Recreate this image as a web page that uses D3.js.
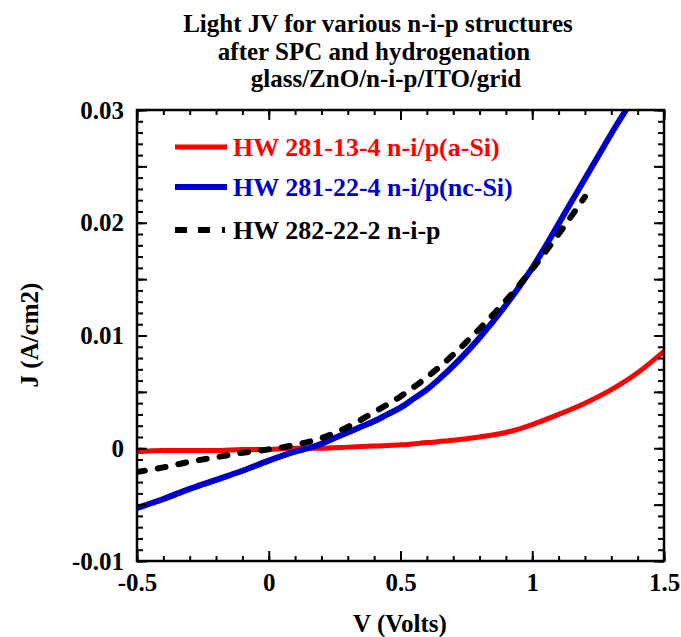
<!DOCTYPE html>
<html>
<head>
<meta charset="utf-8">
<script src="https://cdn.jsdelivr.net/npm/d3@7"></script>
<style>
  body { margin: 0; background: #fff; }
</style>
</head>
<body>
<div id="wrapper"></div>
<script>
// data
const titleLines = ["Light JV for various n-i-p structures", "after SPC and hydrogenation", "glass/ZnO/n-i-p/ITO/grid"]
const seriesNames = ["HW 281-13-4 n-i/p(a-Si)", "HW 281-22-4 n-i/p(nc-Si)", "HW 282-22-2 n-i-p"]

const redV = [-0.5, -0.4, -0.3, -0.2, -0.1, 0, 0.1, 0.2, 0.3, 0.4, 0.5, 0.6, 0.7, 0.8, 0.9, 1.0, 1.1, 1.2, 1.3, 1.4, 1.5]
const redJ = [-0.0003, -0.0002, -0.0002, -0.0002, -0.0001, -0.0001, 0, 0, 0.0001, 0.0002, 0.0003, 0.0005, 0.0007, 0.0010, 0.0014, 0.0021, 0.0030, 0.0040, 0.0052, 0.0067, 0.0086]

const blueV = [-0.5, -0.4, -0.3, -0.2, -0.1, 0, 0.1, 0.15, 0.2, 0.25, 0.3, 0.35, 0.4, 0.45, 0.5, 0.55, 0.6, 0.65, 0.7, 0.75, 0.8, 0.85, 0.9, 0.95, 1.0, 1.05, 1.1, 1.15, 1.2, 1.25, 1.3, 1.356]
const blueJ = [-0.0053, -0.0045, -0.0036, -0.0028, -0.0020, -0.0011, -0.0003, 0.0000, 0.0004, 0.0009, 0.0014, 0.0019, 0.0024, 0.0030, 0.0036, 0.0044, 0.0052, 0.0062, 0.0073, 0.0085, 0.0098, 0.0112, 0.0127, 0.0143, 0.0160, 0.0179, 0.0199, 0.0219, 0.0239, 0.0259, 0.0279, 0.0300]

const blackV = [-0.5, -0.4, -0.3, -0.2, -0.1, 0, 0.1, 0.2, 0.3, 0.4, 0.5, 0.6, 0.7, 0.8, 0.9, 1.0, 1.1, 1.2]
const blackJ = [-0.0021, -0.0017, -0.0012, -0.0008, -0.0004, -0.0001, 0.0003, 0.0009, 0.0019, 0.0032, 0.0046, 0.0063, 0.0083, 0.0106, 0.0131, 0.0159, 0.0190, 0.0223]

const xMajor = [-0.5, 0, 0.5, 1, 1.5]
const xLabels = ["-0.5", "0", "0.5", "1", "1.5"]
const yLabelValues = [-0.01, 0, 0.01, 0.02, 0.03]
const yLabels = ["-0.01", "0", "0.01", "0.02", "0.03"]

const colors = ["#ff0000", "#0000cc", "#000000"]
const fontFamily = "Liberation Serif"

// dimensions
let dimensions = {
  width: 681,
  height: 637,
  margin: { top: 110, right: 17, bottom: 76, left: 137 },
}
dimensions.boundedWidth = dimensions.width - dimensions.margin.left - dimensions.margin.right
dimensions.boundedHeight = dimensions.height - dimensions.margin.top - dimensions.margin.bottom

const wrapper = d3.select("#wrapper")
  .append("svg")
    .attr("width", dimensions.width)
    .attr("height", dimensions.height)

const bounds = wrapper.append("g")
    .attr("transform", `translate(${dimensions.margin.left},${dimensions.margin.top})`)

// scales
const xScale = d3.scaleLinear()
  .domain([-0.5, 1.5])
  .range([0, dimensions.boundedWidth])

const yScale = d3.scaleLinear()
  .domain([-0.01, 0.03])
  .range([dimensions.boundedHeight, 0])

const xMinor = d3.range(-5, 16).map(d => d / 10)
const yMinor = d3.range(-10, 31).map(d => d / 1000)
const yMajor = d3.range(-2, 7).map(d => d / 200)

// title
wrapper.selectAll(".title")
  .data(titleLines)
  .join("text")
    .attr("class", "title")
    .attr("x", (d, i) => [378, 374, 386][i])
    .attr("y", (d, i) => 32 + i * 27.5)
    .attr("text-anchor", "middle")
    .attr("font-family", fontFamily)
    .attr("font-weight", "bold")
    .attr("font-size", 25)
    .text(d => d)

// data lines
bounds.append("clipPath").attr("id", "plotClip")
  .append("rect")
    .attr("width", dimensions.boundedWidth)
    .attr("height", dimensions.boundedHeight)

const lineGenerator = d3.line()
  .x(d => xScale(d[0]))
  .y(d => yScale(d[1]))
  .curve(d3.curveMonotoneX)

const series = [
  d3.zip(redV, redJ),
  d3.zip(blueV, blueJ),
  d3.zip(blackV, blackJ),
]

const lines = bounds.append("g").attr("clip-path", "url(#plotClip)")
lines.selectAll("path")
  .data(series)
  .join("path")
    .attr("d", lineGenerator)
    .attr("fill", "none")
    .attr("stroke", (d, i) => colors[i])
    .attr("stroke-width", (d, i) => i == 0 ? 5 : 6)
    .attr("stroke-linecap", "round")
    .attr("stroke-dasharray", (d, i) => i == 2 ? "8,13" : null)

// axes
const axisStyle = g => {
  g.attr("font-family", null).attr("font-size", null)
  g.select(".domain").remove()
  g.selectAll("line").attr("stroke", "#000").attr("stroke-width", 2)
  g.selectAll("text")
    .attr("fill", "#000")
    .attr("font-family", fontFamily)
    .attr("font-weight", "bold")
    .attr("font-size", 25)
}

const xFormat = d => { const i = xMajor.indexOf(d); return i >= 0 ? xLabels[i] : "" }
const yFormat = d => {
  const i = yLabelValues.findIndex(v => Math.abs(v - d) < 1e-9)
  return i >= 0 ? yLabels[i] : ""
}

// bottom
bounds.append("g")
    .attr("transform", `translate(0,${dimensions.boundedHeight})`)
    .call(d3.axisBottom(xScale).tickValues(xMinor).tickSize(-5).tickFormat(""))
    .call(axisStyle)
bounds.append("g")
    .attr("transform", `translate(0,${dimensions.boundedHeight})`)
    .call(d3.axisBottom(xScale).tickValues(xMajor).tickSize(-10).tickPadding(12).tickFormat(xFormat))
    .call(axisStyle)
// top
bounds.append("g")
    .call(d3.axisTop(xScale).tickValues(xMinor).tickSize(-5).tickFormat(""))
    .call(axisStyle)
bounds.append("g")
    .call(d3.axisTop(xScale).tickValues(xMajor).tickSize(-10).tickFormat(""))
    .call(axisStyle)
// left
bounds.append("g")
    .call(d3.axisLeft(yScale).tickValues(yMinor).tickSize(-6).tickFormat(""))
    .call(axisStyle)
bounds.append("g")
    .call(d3.axisLeft(yScale).tickValues(yMajor).tickSize(-10).tickPadding(13).tickFormat(yFormat))
    .call(axisStyle)
// right
bounds.append("g")
    .attr("transform", `translate(${dimensions.boundedWidth},0)`)
    .call(d3.axisRight(yScale).tickValues(yMinor).tickSize(-6).tickFormat(""))
    .call(axisStyle)
bounds.append("g")
    .attr("transform", `translate(${dimensions.boundedWidth},0)`)
    .call(d3.axisRight(yScale).tickValues(yMajor).tickSize(-10).tickFormat(""))
    .call(axisStyle)

// frame
bounds.append("rect")
    .attr("width", dimensions.boundedWidth)
    .attr("height", dimensions.boundedHeight)
    .attr("fill", "none")
    .attr("stroke", "#000")
    .attr("stroke-width", 2.5)

// axis labels
wrapper.append("text")
    .attr("x", 400)
    .attr("y", 632)
    .attr("text-anchor", "middle")
    .attr("font-family", fontFamily)
    .attr("font-weight", "bold")
    .attr("font-size", 25)
    .text("V (Volts)")

wrapper.append("text")
    .attr("transform", `translate(38,335) rotate(-90)`)
    .attr("text-anchor", "middle")
    .attr("font-family", fontFamily)
    .attr("font-weight", "bold")
    .attr("font-size", 25)
    .text("J (A/cm2)")

// legend
const legend = bounds.append("g")
    .attr("transform", "translate(38,37)")

const legendItem = legend.selectAll("g")
  .data(seriesNames)
  .join("g")
    .attr("transform", (d, i) => `translate(0,${[0, 40, 83][i]})`)

legendItem.append("line")
    .attr("x1", 0)
    .attr("x2", 52)
    .attr("stroke", (d, i) => colors[i])
    .attr("stroke-width", (d, i) => i == 0 ? 5 : 6)
    .attr("stroke-dasharray", (d, i) => i == 2 ? "12,11,12,12,3,20" : null)

legendItem.append("text")
    .attr("x", 58)
    .attr("dy", "0.35em")
    .attr("fill", (d, i) => colors[i])
    .attr("font-family", fontFamily)
    .attr("font-weight", "bold")
    .attr("font-size", 26)
    .text(d => d)
</script>
</body>
</html>
